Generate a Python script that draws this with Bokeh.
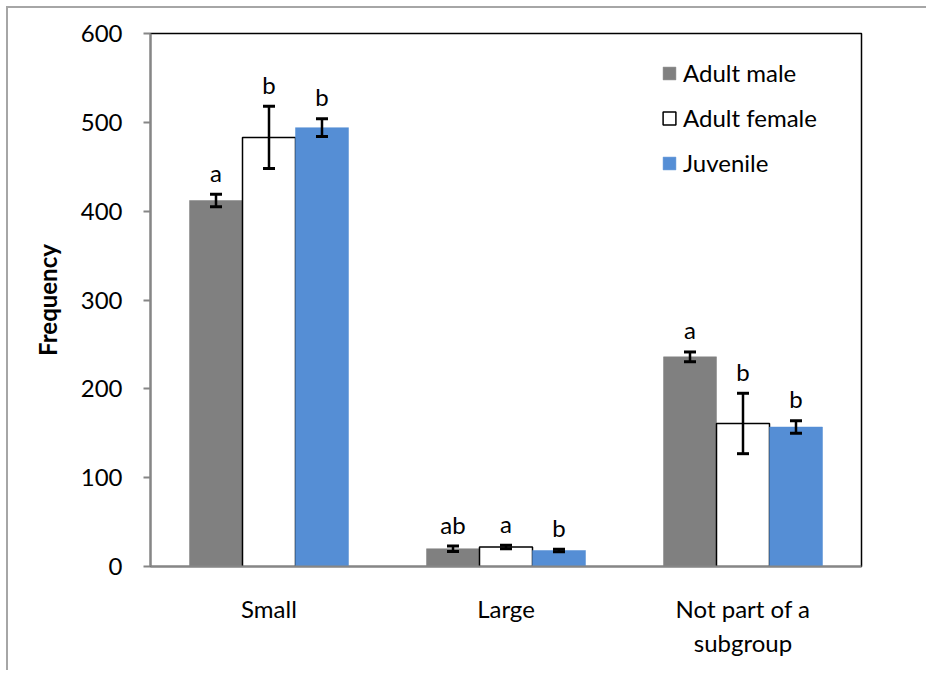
from bokeh.plotting import figure
from bokeh.models import ColumnDataSource, Whisker, Legend, LegendItem, Range1d, FactorRange, TeeHead
from bokeh.transform import dodge
from bokeh.core.properties import value
from bokeh.embed import file_html
from bokeh.resources import INLINE

# ---- data ----
categories = ["Small", "Large", "Not part of a\nsubgroup"]
series = ["Adult male", "Adult female", "Juvenile"]
male = [412, 20, 236]
male_err = [7, 3, 5.5]
female = [483, 22, 161]
female_err = [35, 2, 34]
juvenile = [494, 18, 157]
juvenile_err = [10, 1.5, 7]
male_letters = ["a", "ab", "a"]
female_letters = ["b", "a", "b"]
juvenile_letters = ["b", "b", "b"]
y_ticks = [0, 100, 200, 300, 400, 500, 600]

FONT = "Lato"
BAR_W = 0.2236

p = figure(
    x_range=FactorRange(factors=categories, range_padding=0),
    y_range=Range1d(0, 600),
    width=920, height=664,
    min_border_left=142, min_border_right=67,
    min_border_top=25, min_border_bottom=106,
    output_backend="svg", toolbar_location=None,
    background_fill_color="white", border_fill_color="white",
)
p.margin = (6, 0, 0, 6)
p.styles = {"border-left": "2px solid #a6a6a6", "border-top": "2px solid #a6a6a6"}

p.outline_line_color = "black"
p.outline_line_width = 1.5
p.xgrid.grid_line_color = None
p.ygrid.grid_line_color = None

groups = [
    (male, male_err, male_letters, -BAR_W, "#808080", None),
    (female, female_err, female_letters, 0.0, "white", "black"),
    (juvenile, juvenile_err, juvenile_letters, BAR_W, "#558ED5", None),
]

renderers = []
for vals, errs, letters, off, fill, line in groups:
    src = ColumnDataSource(dict(
        cat=categories,
        val=vals,
        upper=[v + e for v, e in zip(vals, errs)],
        lower=[v - e for v, e in zip(vals, errs)],
        letter=letters,
    ))
    r = p.vbar(x=dodge("cat", off, range=p.x_range), top="val", bottom=0,
               width=BAR_W, source=src, fill_color=fill,
               line_color=line if line else fill, line_width=1.5 if line else 0.5)
    renderers.append(r)
    w = Whisker(base=dodge("cat", off, range=p.x_range), upper="upper", lower="lower",
                source=src, line_color="black", line_width=2.5, level="annotation",
                upper_head=TeeHead(size=12, line_width=3, line_color="black"),
                lower_head=TeeHead(size=12, line_width=3, line_color="black"))
    p.add_layout(w)
    p.text(x=dodge("cat", off, range=p.x_range), y="upper", text="letter", source=src,
           text_align="center", text_baseline="alphabetic", y_offset=-22,
           text_font=value(FONT), text_font_size="24px", text_color="black")

legend = Legend(
    items=[LegendItem(label=s, renderers=[r]) for s, r in zip(series, renderers)],
    location=(511, 389), padding=0, spacing=16, margin=0,
    glyph_width=16, glyph_height=16, label_standoff=6,
    border_line_color=None, background_fill_alpha=0,
    label_text_font=FONT, label_text_font_size="24px", label_text_color="black",
)
p.add_layout(legend)

# y axis
p.yaxis.ticker = y_ticks
p.yaxis.axis_line_color = "#868686"
p.yaxis.axis_line_width = 2
p.yaxis.major_tick_line_color = "#868686"
p.yaxis.major_tick_line_width = 2
p.yaxis.major_tick_out = 7
p.yaxis.major_tick_in = 0
p.yaxis.minor_tick_line_color = None
p.yaxis.major_label_standoff = 21
p.yaxis.major_label_text_font = FONT
p.yaxis.major_label_text_font_size = "24px"
p.yaxis.major_label_text_color = "black"
p.yaxis.axis_label = "Frequency"
p.yaxis.axis_label_text_font = FONT
p.yaxis.axis_label_text_font_style = "bold"
p.yaxis.axis_label_text_font_size = "24px"
p.yaxis.axis_label_text_color = "black"
p.yaxis.axis_label_standoff = 16

# x axis
p.xaxis.axis_line_color = "#868686"
p.xaxis.axis_line_width = 2
p.xaxis.major_tick_line_color = None
p.xaxis.minor_tick_line_color = None
p.xaxis.major_label_standoff = 21
p.xaxis.major_label_text_font = FONT
p.xaxis.major_label_text_font_size = "24px"
p.xaxis.major_label_text_color = "black"

open("out.html", "w").write(file_html(p, INLINE))
